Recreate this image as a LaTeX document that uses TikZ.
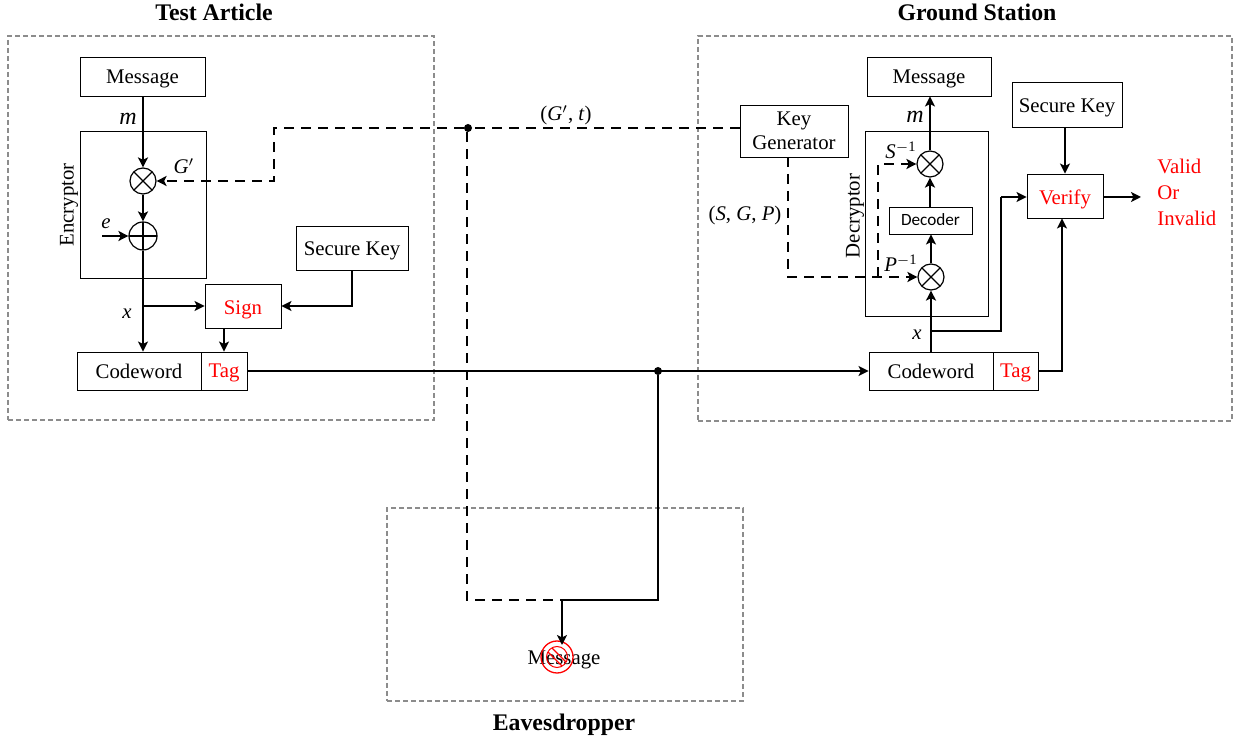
\documentclass[tikz,border=0pt]{standalone}
\usepackage{fontspec}
\usepackage{xcolor}
\setmainfont{Liberation Serif}
\newfontfamily\decoderfont{Carlito}
\usetikzlibrary{arrows.meta,calc,positioning}
\definecolor{framegray}{RGB}{140,140,140}
\definecolor{signalred}{RGB}{255,0,0}
\newcommand{\mvar}[1]{\textit{#1}}
\tikzset{
  blockbox/.style={draw, line width=0.45pt, inner sep=0pt, align=center, text depth=0pt, font=\fontsize{10.4}{12}\selectfont},
  groupbox/.style={draw, line width=0.45pt, inner sep=0pt},
  framebox/.style={draw=framegray, line width=0.55pt, dash pattern=on 2.5pt off 1.5pt, inner sep=0pt},
  titlelabel/.style={font=\fontsize{11.9}{13}\selectfont\bfseries, inner sep=0pt},
  varlabel/.style={font=\fontsize{10.4}{13}\selectfont, inner sep=0pt},
  mixer/.style={circle, draw, line width=0.6pt, inner sep=0pt, minimum size=13pt},
  timesnode/.style={mixer, path picture={
      \draw[line width=0.6pt] (path picture bounding box.north west) -- (path picture bounding box.south east);
      \draw[line width=0.6pt] (path picture bounding box.south west) -- (path picture bounding box.north east);}},
  plusnode/.style={mixer, minimum size=14pt, path picture={
      \draw[line width=0.6pt] (path picture bounding box.north) -- (path picture bounding box.south);
      \draw[line width=0.6pt] (path picture bounding box.west) -- (path picture bounding box.east);}},
  wire/.style={line width=1.4pt, -{Stealth[length=5pt,width=5pt,inset=1.2pt]}},
  plainwire/.style={line width=1.4pt},
  keywire/.style={line width=1.4pt, dash pattern=on 5pt off 3.5pt, -{Stealth[length=5pt,width=5pt,inset=1.2pt]}},
  plainkey/.style={line width=1.4pt, dash pattern=on 5pt off 3.5pt},
  junction/.style={circle, fill=black, inner sep=0pt, minimum size=4pt}
}
\begin{document}
\begin{tikzpicture}[x=0.5pt, y=-0.5pt]
    \useasboundingbox (0,0) rectangle (1238,742);

    % Dashed outer frames
    \node[framebox, minimum width=213pt, minimum height=192pt] (testframe) at (221,228) {};
    \node[framebox, minimum width=267pt, minimum height=192.5pt] (groundframe) at (965,228.5) {};
    \node[framebox, minimum width=178pt, minimum height=96.5pt] (eveframe) at (565,604.5) {};
    \node[titlelabel] (testtitle) at (214,12) {Test Article};
    \node[titlelabel] (groundtitle) at (977,12) {Ground Station};
    \node[titlelabel] (evetitle) at (564,725) {Eavesdropper};

    % Test article blocks
    \node[blockbox, minimum width=62.5pt, minimum height=19.5pt] (msgA) at (142.5,76.5) {Message};
    \node[groupbox, minimum width=63pt, minimum height=73.5pt] (encryptor) at (143,204.5) {};
    \node[varlabel, rotate=90] (enclabel) at (69,205) {Encryptor};
    \node[timesnode] (mulG) at (143,181) {};
    \node[plusnode] (addE) at (143,236) {};
    \node[blockbox, minimum width=38pt, minimum height=22pt, text height=8.5pt, text=signalred] (sign) at (243,306) {Sign};
    \node[blockbox, minimum width=56pt, minimum height=22pt, text height=8pt] (keyA) at (352,248) {Secure Key};
    \node[blockbox, minimum width=62pt, minimum height=19pt] (codeA) at (139,371) {Codeword};
    \node[blockbox, minimum width=23pt, minimum height=19pt, text=signalred] (tagA) at (224,371) {Tag};

    % Ground station blocks
    \node[blockbox, minimum width=62pt, minimum height=19.5pt] (msgB) at (929,76.5) {Message};
    \node[blockbox, minimum width=54pt, minimum height=26pt] (keygen) at (794,131) {Key\\Generator};
    \node[groupbox, minimum width=61.5pt, minimum height=92.5pt] (decryptor) at (926.5,223.5) {};
    \node[varlabel, rotate=90] (declabel) at (855,216) {Decryptor};
    \node[timesnode] (mulS) at (930,164) {};
    \node[blockbox, minimum width=41.5pt, minimum height=13.5pt, text depth=1pt, font=\decoderfont\fontsize{8.6}{10}\selectfont] (decoder) at (930.5,220.5) {Decoder};
    \node[timesnode] (mulP) at (931,277) {};
    \node[blockbox, minimum width=62pt, minimum height=19pt] (codeB) at (931,371) {Codeword};
    \node[blockbox, minimum width=22.5pt, minimum height=19pt, text=signalred] (tagB) at (1015.5,371) {Tag};
    \node[blockbox, minimum width=55pt, minimum height=22.5pt, text height=8pt] (keyB) at (1067,104.5) {Secure Key};
    \node[blockbox, minimum width=38pt, minimum height=22pt, text height=8.5pt, text=signalred] (verify) at (1065,196) {Verify};
    \node[varlabel, text=signalred, align=left, anchor=west] (result) at (1157,192) {Valid\\Or\\Invalid};
    \coordinate (resultin) at (1141,197);

    % Eavesdropper blocks
    \node[varlabel] (msgE) at (564,660) {Message};
    \node[circle, draw=signalred, line width=0.65pt, minimum size=16pt, inner sep=0pt] (blocked) at (557,657) {};
    \node[circle, draw=signalred, line width=0.5pt, minimum size=10.5pt, inner sep=0pt] (blockedin) at (557,657) {};
    \draw[signalred, line width=0.6pt] ($(blocked)+(-9,-5)$) -- ($(blocked)+(5,9)$);
    \draw[signalred, line width=0.6pt] ($(blocked)+(-5,-9)$) -- ($(blocked)+(9,5)$);

    % Junctions
    \node[junction] (keydot) at (468,128) {};
    \node[junction] (tapdot) at (658,371) {};
    \coordinate (errin) at (102,236);
    \coordinate (xtapA) at (143,306);
    \coordinate (xtapB) at (931,331);
    \coordinate (evein) at (562,600);

    % Encryption path
    \draw[wire] (msgA.south -| mulG) -- (mulG);
    \draw[wire] (mulG) -- (addE);
    \draw[wire] (errin) -- (addE);
    \draw[plainwire] (addE) -- (xtapA);
    \draw[wire] (xtapA) -- (xtapA |- codeA.north);
    \draw[wire] (xtapA) -- (sign.west |- xtapA);
    \draw[wire] (keyA.south) |- (sign.east);
    \draw[wire] (sign.south -| tagA) -- (tagA);

    % Channel and tap
    \draw[wire] (tagA.east) -- (codeB.west);
    \draw[plainwire] (tapdot) |- (evein);
    \draw[wire] (evein) -- ++(0,45) coordinate (evetip);

    % Decryption path
    \draw[wire] (codeB.north) -- (mulP);
    \draw[wire] (mulP) -- (decoder.south -| mulP);
    \draw[wire] (decoder.north -| mulS) -- (mulS);
    \draw[wire] (mulS) -- (msgB.south -| mulS);
    \draw[plainwire] (xtapB) -| (1001,197);
    \draw[wire] (1001,197) -- (verify.west |- 0,197);
    \draw[wire] (tagB.east) -| (verify.south -| 1062,0);
    \draw[wire] (keyB.south -| verify) -- (verify.north);
    \draw[wire] (verify.east |- resultin) -- (resultin);

    % Public key distribution
    \draw[plainkey] (keygen.west |- keydot) -- (keydot);
    \draw[keywire] (keydot) -- (274,128) -- (274,181) -- (mulG);
    \draw[plainkey] (keydot.south -| 467,0) -- (467,600) -- (evein);
    \draw[keywire] (788,157) -- (788,277) -- (mulP);
    \draw[keywire] (878,277) -- (878,164) -- (mulS);

    % Variable labels
    \node[varlabel, font=\fontsize{12}{13}\selectfont] (mA) at (128,119) {\mvar{m}};
    \node[varlabel] (gprime) at (184,166) {\mvar{G}$'$};
    \node[varlabel] (eA) at (106,224) {\mvar{e}};
    \node[varlabel] (xA) at (127,314) {\mvar{x}};
    \node[varlabel] (pubkey) at (566,115) {(\mvar{G}$'$, \mvar{t})};
    \node[varlabel] (privkey) at (745,216) {(\mvar{S}, \mvar{G}, \mvar{P})};
    \node[varlabel] (sinv) at (901,150) {\mvar{S}\textsuperscript{$-$1}};
    \node[varlabel] (pinv) at (901,263) {\mvar{P}\textsuperscript{$-$1}};
    \node[varlabel, font=\fontsize{12}{13}\selectfont] (mB) at (915,117) {\mvar{m}};
    \node[varlabel] (xB) at (917,335) {\mvar{x}};
\end{tikzpicture}
\end{document}
